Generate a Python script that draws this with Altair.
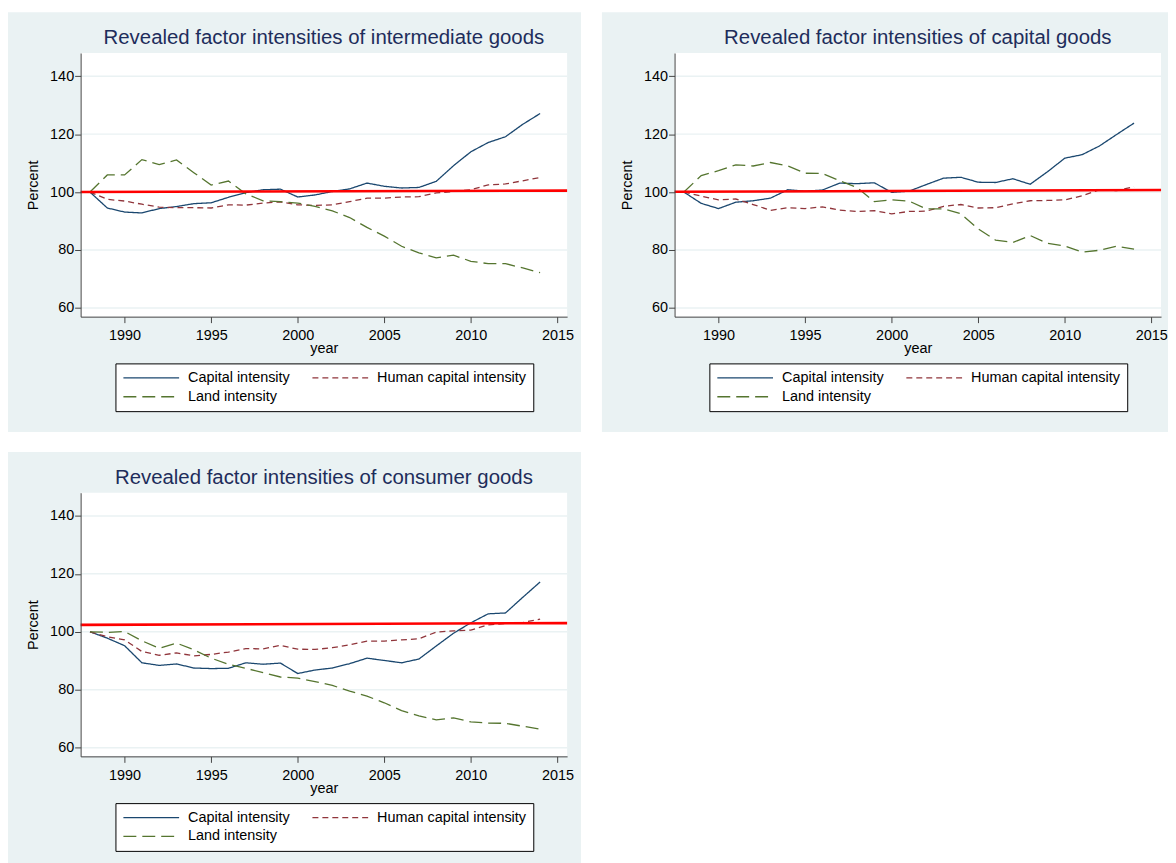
import altair as alt
import pandas as pd

# ---------------- data ----------------
years = list(range(1988, 2015))
series_names = ["Capital intensity", "Human capital intensity", "Land intensity"]

titles = [
    "Revealed factor intensities of intermediate goods",
    "Revealed factor intensities of capital goods",
    "Revealed factor intensities of consumer goods",
]

# intermediate goods
inter_capital = [100, 94.5, 93.1, 92.8, 94.3, 95.0, 96.0, 96.3, 98.2, 99.8, 100.8, 101.0, 98.3, 99.0,
                 100.2, 101.1, 103.1, 102.0, 101.4, 101.6, 103.7, 109.1, 113.9, 117.1, 119.1, 123.4, 127.1]
inter_human = [100, 97.5, 96.9, 95.8, 94.8, 94.6, 94.6, 94.5, 95.6, 95.5, 96.2, 96.6, 95.6, 95.4,
               95.6, 96.7, 97.9, 97.9, 98.3, 98.4, 99.7, 100.2, 100.8, 102.5, 102.8, 103.9, 105.0]
inter_land = [100, 105.9, 105.9, 111.2, 109.5, 111.1, 106.7, 102.4, 103.8, 99.4, 97.0, 96.7, 96.2, 95.1,
              93.5, 91.2, 87.8, 84.8, 81.3, 79.0, 77.3, 78.2, 76.1, 75.3, 75.3, 73.8, 72.2]

# capital goods
cap_capital = [100, 96.1, 94.3, 96.5, 97.0, 97.9, 100.8, 100.3, 100.7, 103.1, 102.9, 103.2, 99.9, 100.3,
               102.6, 104.8, 105.1, 103.4, 103.3, 104.6, 102.7, 107.0, 111.7, 112.9, 115.9, 119.9, 123.8]
cap_human = [100, 98.6, 97.3, 97.6, 95.7, 93.7, 94.6, 94.3, 94.9, 93.8, 93.3, 93.6, 92.5, 93.3,
             93.4, 95.1, 95.7, 94.5, 94.6, 95.9, 97.0, 97.1, 97.3, 98.7, 100.8, 100.5, 101.8]
cap_land = [100, 105.7, 107.4, 109.4, 109.0, 110.2, 109.0, 106.5, 106.4, 103.9, 101.6, 96.7, 97.3, 96.9,
            94.2, 94.2, 92.5, 87.3, 83.4, 82.6, 85.0, 82.3, 81.4, 79.3, 79.9, 81.3, 80.3]

# consumer goods
cons_capital = [100, 97.8, 95.2, 89.3, 88.4, 88.9, 87.5, 87.3, 87.4, 89.3, 88.8, 89.2, 85.6, 86.8,
                87.5, 89.0, 90.9, 90.1, 89.3, 90.6, 95.1, 99.5, 103.1, 106.2, 106.5, 111.9, 117.2]
cons_human = [100, 98.3, 97.2, 93.2, 91.9, 92.7, 91.7, 92.2, 93.0, 94.2, 94.1, 95.3, 94.0, 93.9,
              94.5, 95.5, 96.8, 96.8, 97.2, 97.6, 99.9, 100.3, 100.6, 102.4, 102.9, 103.2, 104.4]
cons_land = [100, 99.8, 100.1, 96.9, 94.3, 96.1, 93.8, 90.9, 88.8, 87.4, 85.9, 84.4, 84.0, 82.8,
             81.5, 79.5, 77.8, 75.5, 72.8, 71.0, 69.6, 70.3, 68.9, 68.5, 68.4, 67.4, 66.4]

# red reference line (start / end values across the plot)
ref_years = [1987.46, 2015.56]
ref_inter = [100.0, 100.5]
ref_cap = [100.1, 100.7]
ref_cons = [102.4, 103.0]

grid_values = [60, 80, 100, 120, 140]
x_ticks = [1990, 1995, 2000, 2005, 2010, 2015]

# ---------------- style ----------------
FONT = "Liberation Sans"
BG = "#EAF2F3"
W, H = 489, 265
X_DOMAIN = [1987.46, 2015.56]
Y_DOMAIN = [57.0, 148.0]
COLORS = ["#1a476f", "#90353b", "#55752f"]
DASHES = [[1, 0], [6, 4], [13, 6]]

X_AXIS = alt.Axis(values=x_ticks, format="d", title="year", titleFont=FONT,
                  titleFontSize=14.5, titleFontWeight="normal", titleColor="black",
                  titlePadding=0, labelFont=FONT, labelFontSize=14.5,
                  labelColor="black", tickSize=6, tickColor="#444",
                  domainColor="#444", grid=False, labelPadding=6, zindex=1)
Y_AXIS = alt.Axis(values=grid_values, title="Percent", titleFont=FONT,
                  titleFontSize=14.5, titleFontWeight="normal", titleColor="black",
                  titlePadding=9, labelFont=FONT, labelFontSize=14.5,
                  labelColor="black", tickSize=6, tickColor="#444",
                  domainColor="#444", grid=False, labelPadding=1, zindex=1)


def panel(title, cap, hum, land, ref_vals, right_pad):
    rows = []
    for name, vals in zip(series_names, [cap, hum, land]):
        for y, v in zip(years, vals):
            rows.append({"year": y, "value": v, "series": name})
    df = pd.DataFrame(rows)

    xs = alt.Scale(domain=X_DOMAIN, nice=False, zero=False)
    ys = alt.Scale(domain=Y_DOMAIN, nice=False, zero=False)

    bg = alt.Chart(pd.DataFrame({"a": [0]})).mark_rect(color=BG).encode(
        x=alt.value(-73), x2=alt.value(W + right_pad), y=alt.value(-41), y2=alt.value(H + 116)
    )
    plotbg = alt.Chart(pd.DataFrame({"a": [0]})).mark_rect(color="white").encode(
        x=alt.value(0), x2=alt.value(W), y=alt.value(0), y2=alt.value(H)
    )
    grid = alt.Chart(pd.DataFrame({"value": grid_values})).mark_rule(
        color=BG, strokeWidth=1.5
    ).encode(
        y=alt.Y("value:Q", scale=ys, axis=Y_AXIS), x=alt.value(0), x2=alt.value(W)
    )
    ttl = alt.Chart(pd.DataFrame({"t": [title]})).mark_text(
        font=FONT, fontSize=20.5, color="#1E2D5B", align="center", baseline="middle"
    ).encode(text="t:N", x=alt.value(W / 2), y=alt.value(-15))

    legend = alt.Legend(
        orient="none", legendX=35, legendY=H + 47, columns=2, direction="horizontal",
        title=None, symbolType="stroke", symbolSize=3136, symbolStrokeWidth=1.3,
        clipHeight=15,
        labelFont=FONT, labelFontSize=14.5, labelColor="black", labelOffset=8,
        fillColor="white", strokeColor="black", padding=7, columnPadding=21,
        rowPadding=3, labelLimit=300,
    )
    lines = alt.Chart(df).mark_line(strokeWidth=1.3).encode(
        x=alt.X("year:Q", scale=xs, axis=X_AXIS),
        y=alt.Y("value:Q", scale=ys, axis=Y_AXIS),
        color=alt.Color("series:N", scale=alt.Scale(domain=series_names, range=COLORS),
                        legend=legend),
        strokeDash=alt.StrokeDash("series:N", scale=alt.Scale(domain=series_names, range=DASHES),
                                  legend=legend),
        detail="series:N",
    )
    ref = alt.Chart(pd.DataFrame({"year": ref_years, "value": ref_vals})).mark_line(
        color="#FF0000", strokeWidth=2.6
    ).encode(x=alt.X("year:Q", scale=xs, axis=X_AXIS), y=alt.Y("value:Q", scale=ys, axis=Y_AXIS))

    return alt.layer(bg, plotbg, grid, lines, ref, ttl).properties(width=W, height=H)


p1 = panel(titles[0], inter_capital, inter_human, inter_land, ref_inter, 14)
p2 = panel(titles[1], cap_capital, cap_human, cap_land, ref_cap, 7)
p3 = panel(titles[2], cons_capital, cons_human, cons_land, ref_cons, 14)

top = alt.hconcat(p1, p2, spacing=21).resolve_scale(
    color="independent", strokeDash="independent"
).resolve_legend(color="independent", strokeDash="independent")

chart = alt.vconcat(top, p3, spacing=20).resolve_scale(
    color="independent", strokeDash="independent"
).resolve_legend(color="independent", strokeDash="independent").configure(
    background="white",
    padding={"left": 0, "top": 2, "right": 0, "bottom": 0},
).configure_view(stroke=None)

chart.save("out.html", embed_options={"renderer": "svg", "actions": False})
